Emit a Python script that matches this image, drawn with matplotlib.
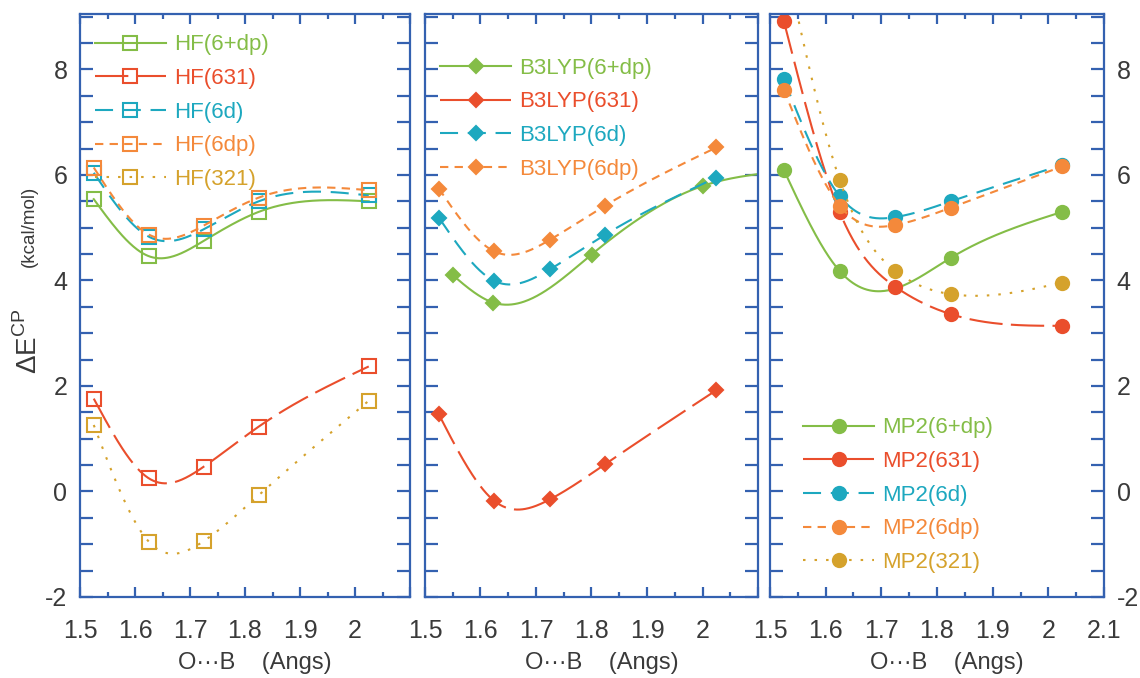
import numpy as np
import matplotlib
matplotlib.use("Agg")
import matplotlib.pyplot as plt
from matplotlib.lines import Line2D
from matplotlib.ticker import MultipleLocator, FuncFormatter

plt.rcParams["font.family"] = ["Liberation Sans", "DejaVu Sans"]
plt.rcParams["mathtext.fontset"] = "custom"
plt.rcParams["mathtext.rm"] = "Liberation Sans"
plt.rcParams["lines.scale_dashes"] = False

# O...B distance (Angs) for the scanned points
r_scan = [1.525, 1.625, 1.725, 1.825, 2.025]

# HF counterpoise-corrected energies (kcal/mol)
hf_6pdp = [5.54, 4.46, 4.75, 5.30, 5.50]
hf_631 = [1.76, 0.25, 0.47, 1.23, 2.37]
hf_6d = [6.04, 4.83, 4.97, 5.50, 5.61]
hf_6dp = [6.14, 4.87, 5.04, 5.57, 5.71]
hf_321 = [1.26, -0.95, -0.94, -0.07, 1.72]

# B3LYP
b3_r_6pdp = [1.55, 1.623, 1.80, 2.0, 2.125]
b3_6pdp = [4.10, 3.58, 4.49, 5.79, 6.05]
b3_631 = [1.46, -0.18, -0.15, 0.52, 1.92]
b3_6d = [5.19, 3.99, 4.21, 4.87, 5.95]
b3_6dp = [5.74, 4.55, 4.77, 5.42, 6.52]

# MP2
mp2_r_6pdp = [1.525, 1.625, 1.825, 2.025]
mp2_6pdp = [6.09, 4.18, 4.43, 5.30]
mp2_631 = [8.91, 5.30, 3.88, 3.36, 3.14]
mp2_6d = [7.81, 5.60, 5.20, 5.50, 6.19]
mp2_6dp = [7.61, 5.42, 5.05, 5.38, 6.16]
mp2_321 = [10.2, 5.91, 4.18, 3.74, 3.96]

basis_labels = ["(6+dp)", "(631)", "(6d)", "(6dp)", "(321)"]

colors = ["#84BD47", "#EA4E2C", "#1DA8BF", "#F4893B", "#D5A22C"]
styles = [
    dict(linestyle="-"),
    dict(dashes=(24, 6)),
    dict(dashes=(13, 7)),
    dict(dashes=(6, 4.5)),
    dict(dashes=(1.8, 6.5)),
]
frame_blue = "#3461B0"
tick_grey = "#3a3a3a"


def natural_spline(x, y, n=300):
    # natural cubic spline through the points, for the smooth connecting curve
    x = np.asarray(x, float)
    y = np.asarray(y, float)
    k = len(x)
    h = np.diff(x)
    A = np.zeros((k, k))
    b = np.zeros(k)
    A[0, 0] = A[-1, -1] = 1.0
    for i in range(1, k - 1):
        A[i, i - 1] = h[i - 1]
        A[i, i] = 2 * (h[i - 1] + h[i])
        A[i, i + 1] = h[i]
        b[i] = 3 * ((y[i + 1] - y[i]) / h[i] - (y[i] - y[i - 1]) / h[i - 1])
    c = np.linalg.solve(A, b)
    xs = np.linspace(x[0], x[-1], n)
    idx = np.clip(np.searchsorted(x, xs) - 1, 0, k - 2)
    dx = xs - x[idx]
    bb = (y[idx + 1] - y[idx]) / h[idx] - h[idx] * (2 * c[idx] + c[idx + 1]) / 3
    dd = (c[idx + 1] - c[idx]) / (3 * h[idx])
    ys = y[idx] + bb * dx + c[idx] * dx ** 2 + dd * dx ** 3
    return xs, ys


def draw_series(ax, x, y, i, marker, mfc, ms):
    xs, ys = natural_spline(x, y)
    ax.plot(xs, ys, color=colors[i], lw=1.5, **styles[i])
    ax.plot(x, y, linestyle="none", marker=marker, ms=ms, mfc=mfc if mfc else colors[i],
            mec=colors[i], mew=1.5)
    return Line2D([], [], color=colors[i], lw=1.5, marker=marker, ms=ms,
                  mfc=mfc if mfc else colors[i], mec=colors[i], mew=1.5, **styles[i])


def style_axes(ax, show_21=False, ylabels=None):
    ax.set_xlim(1.5, 2.1)
    ax.set_ylim(-2, 9.05)
    for sp in ax.spines.values():
        sp.set_color(frame_blue)
        sp.set_linewidth(1.6)
    ax.xaxis.set_major_locator(MultipleLocator(0.1))
    ax.xaxis.set_minor_locator(MultipleLocator(0.05))
    ax.yaxis.set_major_locator(MultipleLocator(0.5))

    def xfmt(v, pos):
        if not show_21 and v > 2.05:
            return ""
        return "%g" % round(v, 2)

    def yfmt(v, pos):
        r = round(v, 2)
        if abs(r - round(r)) < 1e-6 and int(round(r)) % 2 == 0:
            return "%d" % int(round(r))
        return ""

    ax.xaxis.set_major_formatter(FuncFormatter(xfmt))
    ax.yaxis.set_major_formatter(FuncFormatter(yfmt))
    ax.tick_params(axis="both", which="both", direction="in", color=frame_blue,
                   top=True, bottom=True, left=True, right=True,
                   labelcolor=tick_grey, labelsize=18)
    ax.tick_params(axis="x", which="major", length=7.5, width=1.6, pad=16)
    ax.tick_params(axis="x", which="minor", length=3.5, width=1.6)
    ax.tick_params(axis="y", which="major", length=9.5, width=1.6, pad=9)
    ax.tick_params(axis="y", labelleft=(ylabels == "left"), labelright=(ylabels == "right"))
    ax.text(0.53, -0.095, "O\u00b7\u00b7\u00b7B    (Angs)", transform=ax.transAxes,
            ha="center", va="top", fontsize=17, color=tick_grey)


def add_legend(ax, handles, labels, x0, top):
    leg = ax.legend(handles, labels, loc="upper left", bbox_to_anchor=(x0, top),
                    frameon=False, fontsize=16, handlelength=3.2, handletextpad=0.35,
                    labelspacing=0.57, borderpad=0, borderaxespad=0, labelcolor="linecolor")
    return leg


W, H = 1140, 678
fig = plt.figure(figsize=(W / 100, H / 100), dpi=100)
bottom, height = 81 / H, 583 / H
ax1 = fig.add_axes([80 / W, bottom, 330 / W, height])
ax2 = fig.add_axes([425 / W, bottom, 333 / W, height])
ax3 = fig.add_axes([770 / W, bottom, 334 / W, height])

# HF panel, open squares
hf_sets = [hf_6pdp, hf_631, hf_6d, hf_6dp, hf_321]
hf_handles = [draw_series(ax1, r_scan, vals, i, "s", "none", 10) for i, vals in enumerate(hf_sets)]
style_axes(ax1, ylabels="left")
add_legend(ax1, hf_handles, ["HF" + b for b in basis_labels], 0.045, 0.965)

# B3LYP panel, filled diamonds
b3_handles = [draw_series(ax2, b3_r_6pdp, b3_6pdp, 0, "D", None, 7.5)]
for i, vals in enumerate([b3_631, b3_6d, b3_6dp], start=1):
    b3_handles.append(draw_series(ax2, r_scan, vals, i, "D", None, 7.5))
style_axes(ax2)
add_legend(ax2, b3_handles, ["B3LYP" + b for b in basis_labels[:4]], 0.045, 0.925)

# MP2 panel, filled circles
mp2_handles = [draw_series(ax3, mp2_r_6pdp, mp2_6pdp, 0, "o", None, 9.5)]
for i, vals in enumerate([mp2_631, mp2_6d, mp2_6dp, mp2_321], start=1):
    mp2_handles.append(draw_series(ax3, r_scan, vals, i, "o", None, 9.5))
style_axes(ax3, show_21=True, ylabels="right")
add_legend(ax3, mp2_handles, ["MP2" + b for b in basis_labels], 0.099, 0.308)

# y-axis title: symbol and unit set apart
fig.text(29 / W, 1 - 341 / H, "\u0394E$^{\\mathrm{CP}}$", rotation=90,
         ha="center", va="center", fontsize=20, color=tick_grey)
fig.text(29 / W, 1 - 226 / H, "(kcal/mol)", rotation=90,
         ha="center", va="center", fontsize=13.5, color=tick_grey)

fig.savefig("out.png", dpi=100)
